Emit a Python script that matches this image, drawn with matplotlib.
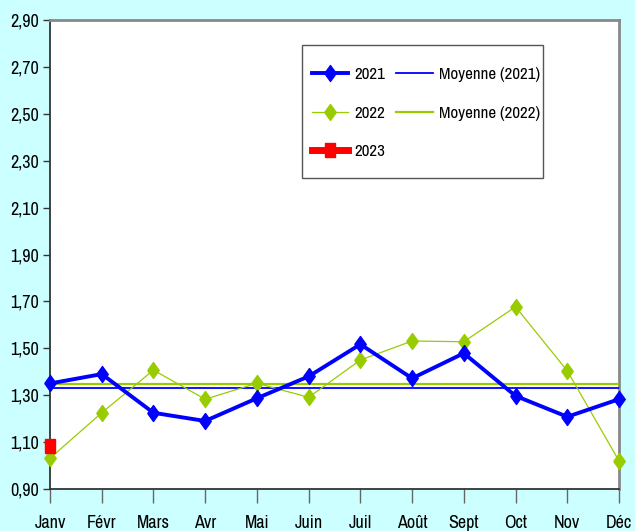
import matplotlib
matplotlib.use("Agg")
import matplotlib.pyplot as plt
from matplotlib.ticker import FixedLocator, FuncFormatter
from matplotlib.patches import Rectangle

plt.rcParams['font.family'] = ['Archivo Narrow', 'Roboto Condensed', 'DejaVu Sans']

months = ["Janv", "Févr", "Mars", "Avr", "Mai", "Juin", "Juil", "Août", "Sept", "Oct", "Nov", "Déc"]
v2021 = [1.35, 1.39, 1.225, 1.19, 1.287, 1.38, 1.517, 1.372, 1.479, 1.297, 1.208, 1.283]
v2022 = [1.031, 1.225, 1.407, 1.283, 1.351, 1.291, 1.45, 1.531, 1.528, 1.677, 1.404, 1.02]
v2023 = [1.083]
mean2021 = sum(v2021) / len(v2021)
mean2022 = sum(v2022) / len(v2022)
yticks = [0.90, 1.10, 1.30, 1.50, 1.70, 1.90, 2.10, 2.30, 2.50, 2.70, 2.90]

BLUE = '#0000FF'
GREEN = '#99CC00'
RED = '#FF0000'

DIAMOND = [(-0.72, 0), (0, 1), (0.72, 0), (0, -1), (-0.72, 0)]
RECT = [(-0.7, -1), (0.7, -1), (0.7, 1), (-0.7, 1), (-0.7, -1)]

fig = plt.figure(figsize=(6.35, 5.31), dpi=100, facecolor='#CCFFFF')
ax = fig.add_axes([50/635, 42/531, 569/635, 469/531])
ax.set_facecolor('white')

x = list(range(len(months)))
l1, = ax.plot(x, v2021, color=BLUE, lw=2.8, marker=DIAMOND, ms=11.5, mec=BLUE, mfc=BLUE,
              clip_on=False, zorder=5, label='2021')
l2, = ax.plot(x, v2022, color=GREEN, lw=0.9, marker=DIAMOND, ms=11.5, mec=GREEN, mfc=GREEN,
              clip_on=False, zorder=4, label='2022')
l3, = ax.plot(x[:len(v2023)], v2023, color=RED, lw=5, marker=RECT, ms=10, mec=RED, mfc=RED,
              clip_on=False, zorder=6, label='2023')
m1 = ax.axhline(mean2021, color=BLUE, lw=1.3, zorder=3, label='Moyenne (2021)')
m2 = ax.axhline(mean2022, color=GREEN, lw=1.6, zorder=3, label='Moyenne (2022)')

ax.set_xlim(0, 11)
ax.set_ylim(0.90, 2.90)
ax.yaxis.set_major_locator(FixedLocator(yticks))
ax.yaxis.set_major_formatter(FuncFormatter(lambda v, p: f"{v:.2f}".replace('.', ',')))
ax.set_xticks(x)
ax.set_xticklabels(months)

ax.tick_params(axis='y', direction='out', length=5, width=1, labelsize=13, pad=3, colors='#333333', labelcolor='black')
ax.tick_params(axis='x', direction='out', length=10, width=1, labelsize=13, pad=9, colors='#666666', labelcolor='black')

for s in ['left', 'bottom']:
    ax.spines[s].set_color('#333333')
    ax.spines[s].set_linewidth(1.3)
for s in ['top', 'right']:
    ax.spines[s].set_color('#888888')
    ax.spines[s].set_linewidth(2)

# legend frame drawn in figure pixels
fig.patches.append(Rectangle((302/635, (531-178)/531), (543-302)/635, (178-45)/531,
                             transform=fig.transFigure, fill=False, edgecolor='#555555',
                             lw=1, zorder=10))
leg = fig.legend(handles=[l1, l2, l3, m1, m2], ncol=2, loc='upper left',
                 bbox_to_anchor=(295/635, (531-50)/531), fontsize=12.2,
                 frameon=False, borderpad=0.5, labelspacing=1.4, handlelength=2.15,
                 columnspacing=0.65, handletextpad=0.35)

fig.savefig('out.png', dpi=100, facecolor=fig.get_facecolor())
